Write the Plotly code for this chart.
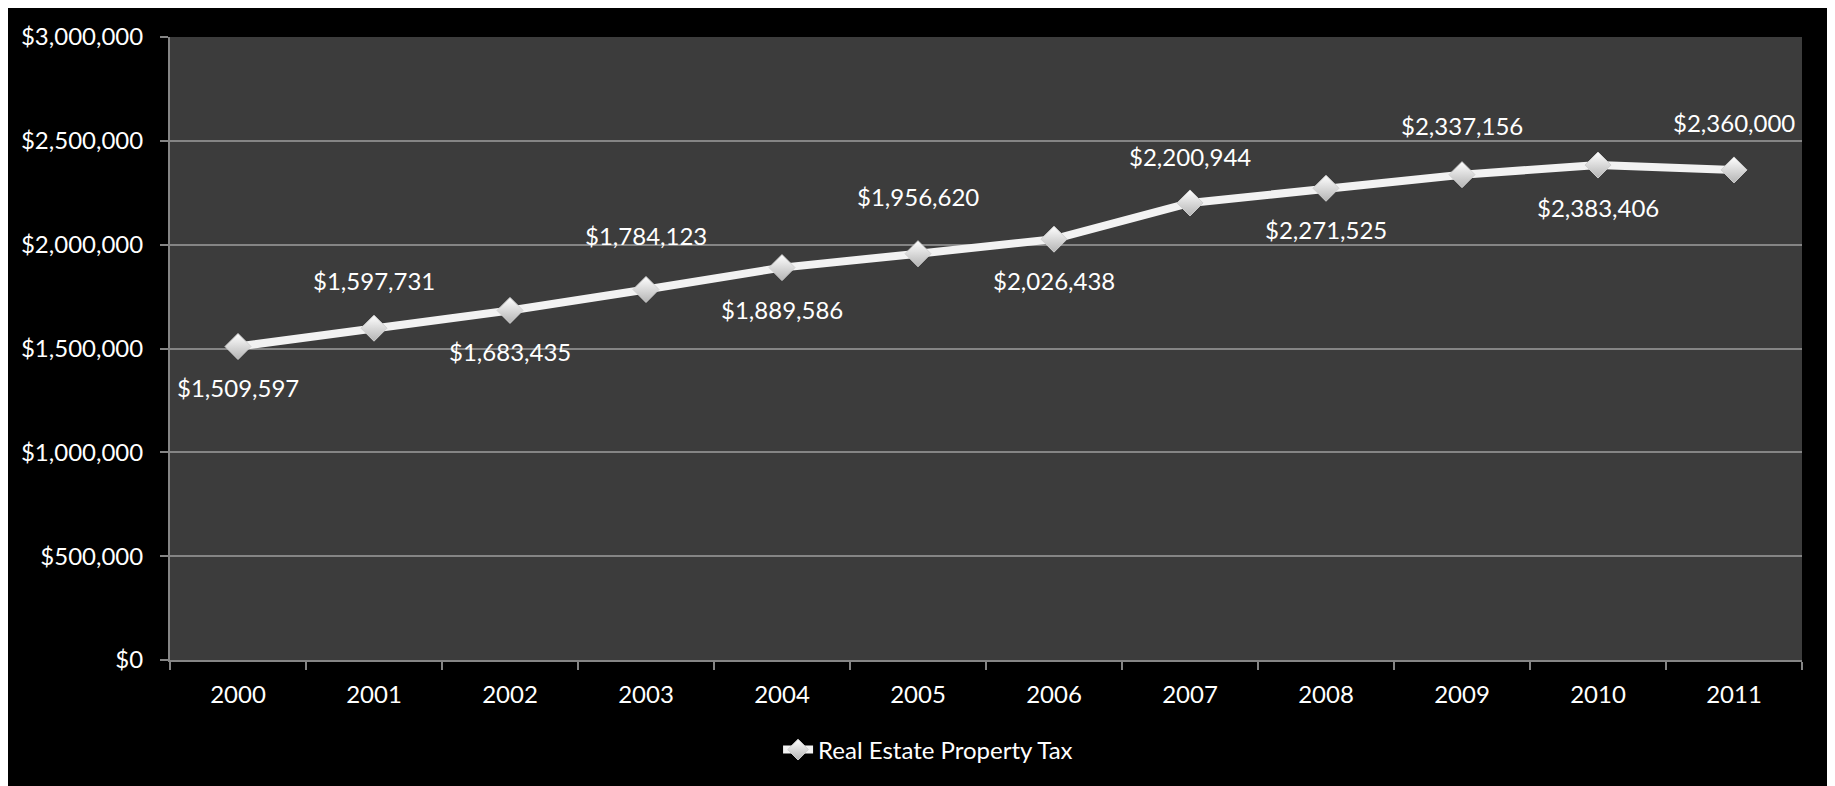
import plotly.graph_objects as go

years = ["2000", "2001", "2002", "2003", "2004", "2005", "2006", "2007", "2008", "2009", "2010", "2011"]
tax = [1509597, 1597731, 1683435, 1784123, 1889586, 1956620, 2026438, 2200944, 2271525, 2337156, 2383406, 2360000]
# data-label offsets (px) relative to each point: positive above, negative below
label_shift = [-41, 48, -41, 54, -42, 57, -41, 46, -41, 49, -42, 47]
series_name = "Real Estate Property Tax"

FONT = "Lato, 'Open Sans', sans-serif"
GRID = "#858585"
FS = 24

fig = go.Figure()
fig.add_trace(go.Scatter(
    x=years, y=tax, mode="lines+markers", name=series_name,
    line=dict(color="#f2f2f2", width=8),
    marker=dict(symbol="diamond", size=20, color="#ffffff",
                gradient=dict(type="vertical", color="#b4b4b4"),
                line=dict(color="#d0d0d0", width=1)),
))

annotations = []
for i, (v, s) in enumerate(zip(tax, label_shift)):
    annotations.append(dict(
        xref="x", yref="y", x=i, y=v, text="${:,}".format(v), showarrow=False,
        yshift=s, font=dict(family=FONT, size=FS, color="#ffffff"),
    ))

fig.update_layout(
    width=1823, height=778,
    margin=dict(l=162, r=29, t=29, b=126),
    paper_bgcolor="#000000", plot_bgcolor="#3c3c3c",
    font=dict(family=FONT, size=FS, color="#ffffff"),
    showlegend=True,
    annotations=annotations,
    legend=dict(orientation="h", x=0.4645, xanchor="center", y=-0.1445, yanchor="middle",
                font=dict(family=FONT, size=FS, color="#ffffff"), bgcolor="rgba(0,0,0,0)"),
    xaxis=dict(type="category", range=[-0.5, 11.5], showgrid=False,
               showline=True, linecolor=GRID, linewidth=2,
               ticks="outside", tickson="boundaries", ticklen=8, tickcolor=GRID, tickwidth=2,
               ticklabelstandoff=12,
               tickfont=dict(family=FONT, size=FS, color="#ffffff")),
    yaxis=dict(range=[0, 3000000], dtick=500000, tickprefix="$", tickformat=",d",
               showgrid=True, gridcolor=GRID, gridwidth=2, zeroline=False,
               showline=True, linecolor=GRID, linewidth=2,
               ticks="outside", ticklen=8, tickcolor=GRID, tickwidth=2,
               ticklabelstandoff=12,
               tickfont=dict(family=FONT, size=FS, color="#ffffff")),
)

fig.write_html("out.html")
